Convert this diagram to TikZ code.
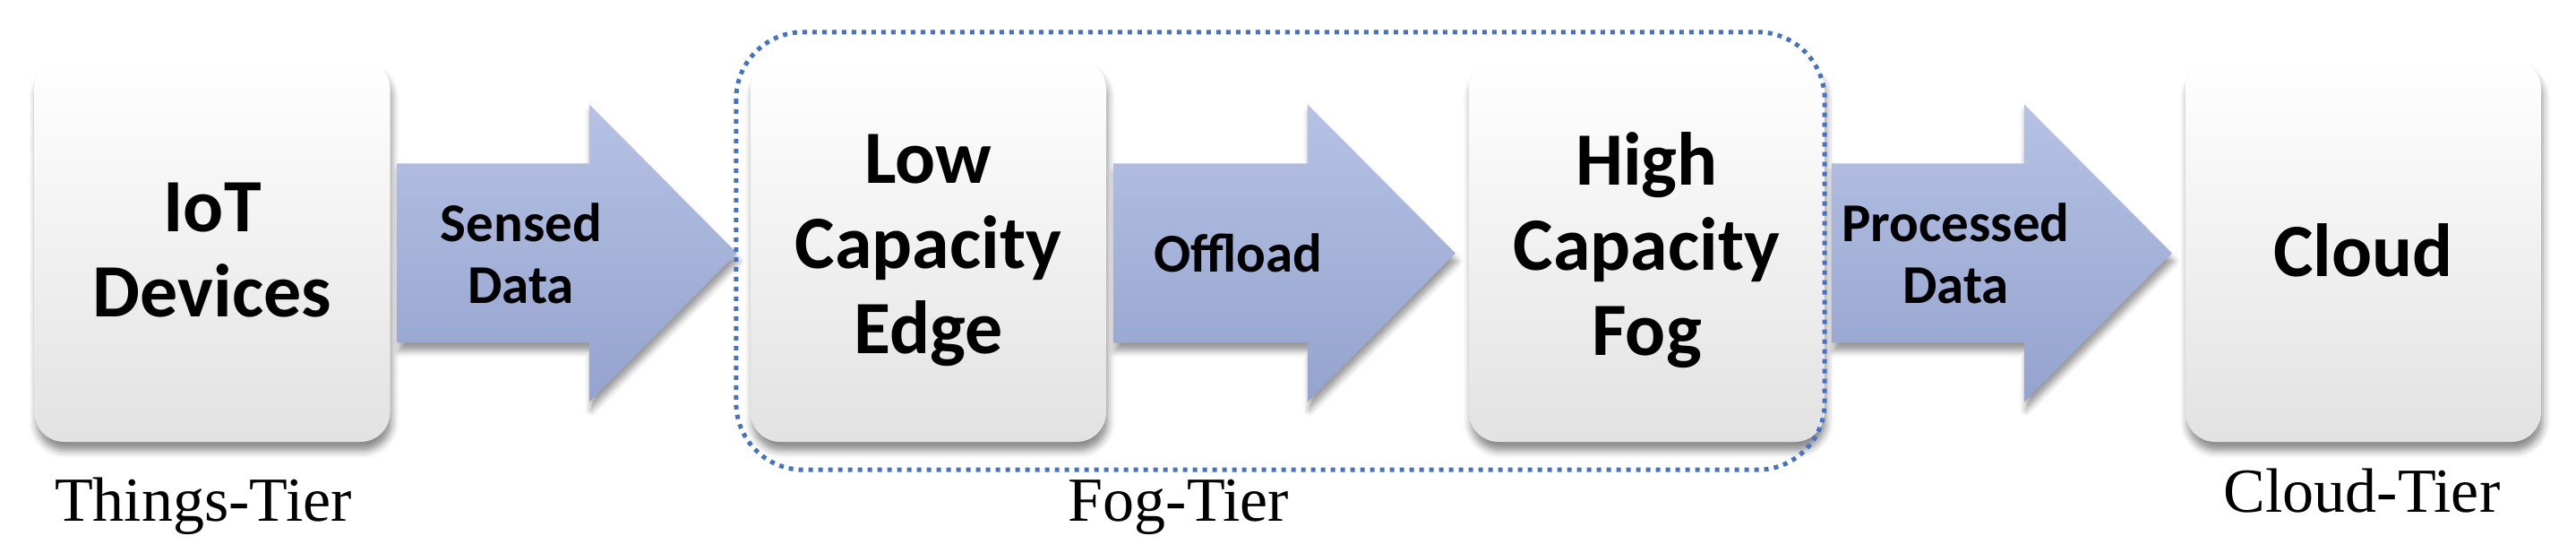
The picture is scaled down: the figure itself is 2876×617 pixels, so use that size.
\documentclass[tikz,border=0pt]{standalone}
\usepackage{fontspec}
\setmainfont{Liberation Serif}
\newfontfamily\calfont{Carlito}
\usetikzlibrary{calc,shadows.blur}
\definecolor{arrtop}{HTML}{B6C2E4}
\definecolor{arrbot}{HTML}{94A3CE}
\definecolor{boxmid}{HTML}{F7F7F7}
\definecolor{boxbot}{HTML}{E2E2E2}
\definecolor{fogblue}{HTML}{4472C4}
\tikzset{
  tierbox/.style={rectangle, rounded corners=33pt, minimum width=397pt,
    minimum height=427pt, inner sep=0pt, top color=white, middle color=boxmid,
    bottom color=boxbot,
    blur shadow={shadow xshift=2pt, shadow yshift=-10pt, shadow blur radius=8pt, shadow opacity=45},
    font=\calfont\bfseries\fontsize{84}{95}\selectfont, align=center},
  blockarrow/.style={top color=arrtop, bottom color=arrbot,
    blur shadow={shadow xshift=2pt, shadow yshift=-9pt, shadow blur radius=7pt, shadow opacity=40}},
  arrowlabel/.style={font=\calfont\bfseries\fontsize{61}{69}\selectfont, align=center, inner sep=0pt},
  tierlabel/.style={font=\fontsize{70}{80}\selectfont, anchor=base, inner sep=0pt},
  fogframe/.style={draw=fogblue, line width=5pt, dash pattern=on 5pt off 6pt, rounded corners=75pt}
}
\newcommand\flowarrow[4]{%
  \path[blockarrow] let \p1=($(#1.east)+(8,3)$), \p2=($(#2.west)+(-15,3)$) in
    (\x1,\y1+100pt) -- (\x2-165pt,\y1+100pt) -- (\x2-165pt,\y1+166pt) -- (\x2,\y1)
    -- (\x2-165pt,\y1-166pt) -- (\x2-165pt,\y1-100pt) -- (\x1,\y1-100pt) -- cycle;
  \path let \p1=($(#1.east)+(8,3)$), \p2=($(#2.west)+(-15,3)$) in
    node[arrowlabel] (#3) at ({(\x1+\x2-165pt)/2+31pt},\y1) {#4};
}
\begin{document}
\begin{tikzpicture}[x=1pt,y=-1pt]
\useasboundingbox (0,0) rectangle (2876,617);
\node[tierbox] (iot) at (237,279.5) {IoT\\Devices};
\node[tierbox] (low) at (1036.5,279.5) {Low\\Capacity\\Edge};
\node[tierbox] (high) at (1838.5,279.5) {High\\Capacity\\Fog};
\node[tierbox] (cloud) at (2638.5,279.5) {Cloud};
\flowarrow{iot}{low}{sensed}{Sensed\\Data}
\flowarrow{low}{high}{offload}{Offload}
\flowarrow{high}{cloud}{processed}{Processed\\Data}
\draw[fogframe] ($(low.north west)+(-16,-30)$) rectangle ($(high.south east)+(0,31)$);
\node[tierlabel] (things) at (227,581) {Things-Tier};
\node[tierlabel] (fogtier) at (1316,581) {Fog-Tier};
\node[tierlabel] (cloudtier) at (2637,571) {Cloud-Tier};
\end{tikzpicture}
\end{document}
